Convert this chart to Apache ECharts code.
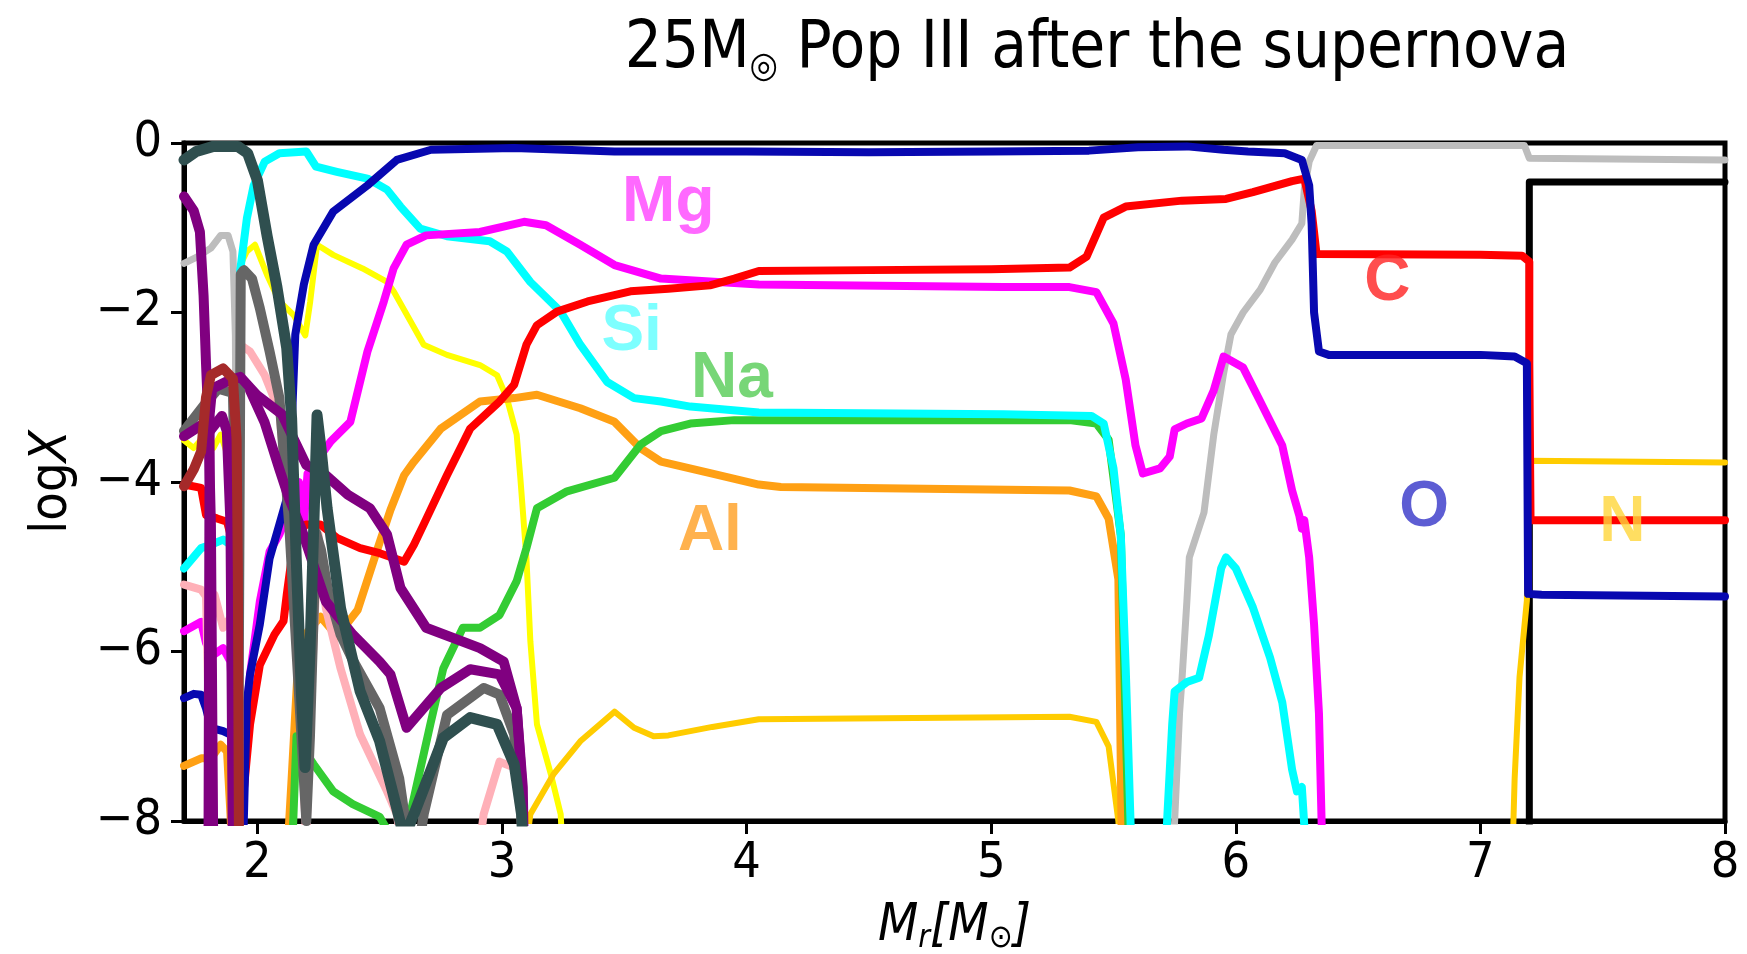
<!DOCTYPE html>
<html>
<head>
<meta charset="utf-8">
<script src="https://cdn.jsdelivr.net/npm/echarts@6/dist/echarts.min.js"></script>
<style>
  html, body { margin: 0; padding: 0; background: #ffffff; }
  #chart { width: 1747px; height: 954px; }
</style>
</head>
<body>
<div id="chart"></div>
<script>
// Axis ticks
const xTicks = [2, 3, 4, 5, 6, 7, 8];
const yTicks = [0, -2, -4, -6, -8];

// Abundance profiles, [Mr, logX]; values below -8 fall outside the frame
const blackLine = [[7.2, -8.5], [7.2, -0.46], [8.0, -0.46]];

const lightGrayLine = [[1.70, -1.42], [1.75, -1.35], [1.81, -1.24], [1.85, -1.09], [1.88, -1.09], [1.90, -1.28], [1.91, -2.27], [1.915, -5], [1.92, -8.5],
  [5.74, -8.5], [5.75, -8.0], [5.77, -6.73], [5.78, -6.33], [5.80, -5.41], [5.81, -4.89], [5.87, -4.36], [5.91, -3.44], [5.95, -2.72], [5.98, -2.26],
  [6.03, -2.0], [6.10, -1.73], [6.16, -1.41], [6.23, -1.14], [6.27, -0.95], [6.28, -0.55], [6.30, -0.22], [6.33, -0.03], [7.18, -0.03], [7.20, -0.18], [8.0, -0.2]];

const yellowLine = [[1.70, -3.51], [1.74, -3.6], [1.78, -3.47], [1.82, -3.6], [1.85, -3.44], [1.88, -3.7], [1.90, -4.5], [1.91, -8.5], [1.925, -8.5],
  [1.93, -1.44], [1.957, -1.28], [1.99, -1.2], [2.04, -1.56], [2.09, -1.87], [2.148, -2.03], [2.196, -2.27], [2.216, -1.87], [2.244, -1.2],
  [2.31, -1.32], [2.43, -1.48], [2.53, -1.64], [2.557, -1.75], [2.68, -2.38], [2.775, -2.5], [2.91, -2.62], [2.98, -2.74], [3.02, -3.01],
  [3.06, -3.44], [3.075, -3.95], [3.10, -4.9], [3.116, -5.88], [3.143, -6.86], [3.20, -7.45], [3.24, -7.92], [3.25, -8.5]];

const N = [[3.09, -8.5], [3.116, -7.92], [3.21, -7.45], [3.32, -7.06], [3.46, -6.71], [3.54, -6.9], [3.62, -7.0], [3.68, -6.99], [3.86, -6.89],
  [4.05, -6.8], [5.32, -6.77], [5.43, -6.83], [5.48, -7.12], [5.52, -8.0], [5.53, -8.5], [7.13, -8.5], [7.14, -7.5], [7.16, -6.3], [7.19, -5.4],
  [7.20, -3.75], [8.0, -3.77]];

const Al = [[1.70, -7.35], [1.77, -7.26], [1.81, -7.26], [1.85, -7.1], [1.876, -7.18], [1.89, -7.92], [1.90, -8.5], [2.12, -8.5], [2.14, -7.5],
  [2.165, -6.2], [2.19, -5.82], [2.258, -5.59], [2.326, -5.82], [2.41, -5.51], [2.49, -4.8], [2.544, -4.33], [2.60, -3.92], [2.64, -3.76],
  [2.75, -3.37], [2.91, -3.05], [3.05, -3.01], [3.143, -2.97], [3.32, -3.13], [3.46, -3.29], [3.566, -3.6], [3.65, -3.76], [3.86, -3.9],
  [4.05, -4.03], [4.14, -4.06], [5.32, -4.1], [5.43, -4.17], [5.48, -4.43], [5.52, -5.15], [5.535, -8.5]];

const Na = [[2.14, -8.5], [2.16, -7.0], [2.20, -7.2], [2.23, -7.33], [2.31, -7.65], [2.39, -7.8], [2.50, -7.95], [2.57, -8.3], [2.60, -8.3],
  [2.625, -7.92], [2.707, -6.86], [2.76, -6.2], [2.84, -5.72], [2.91, -5.72], [2.99, -5.57], [3.06, -5.17], [3.10, -4.78], [3.143, -4.31],
  [3.266, -4.11], [3.46, -3.95], [3.566, -3.56], [3.65, -3.4], [3.77, -3.31], [3.95, -3.27], [5.32, -3.27], [5.43, -3.31], [5.48, -3.5],
  [5.53, -4.63], [5.565, -8.5]];

const Si = [[1.70, -5.02], [1.77, -4.78], [1.81, -4.74], [1.86, -4.68], [1.89, -4.74], [1.90, -5.57], [1.91, -8.5], [1.925, -8.5], [1.93, -1.5],
  [1.957, -0.89], [1.985, -0.5], [2.03, -0.22], [2.09, -0.12], [2.20, -0.1], [2.24, -0.28], [2.325, -0.34], [2.45, -0.42], [2.53, -0.55],
  [2.585, -0.75], [2.666, -1.01], [2.775, -1.1], [2.95, -1.16], [3.02, -1.28], [3.116, -1.64], [3.24, -1.99], [3.32, -2.38], [3.43, -2.82],
  [3.54, -3.01], [3.65, -3.05], [3.77, -3.11], [4.05, -3.18], [5.05, -3.2], [5.41, -3.22], [5.46, -3.31], [5.50, -3.84], [5.53, -4.63],
  [5.55, -6.2], [5.575, -8.5], [5.71, -8.5], [5.74, -6.86], [5.75, -6.47], [5.80, -6.36], [5.85, -6.31], [5.89, -5.81], [5.94, -5.02],
  [5.96, -4.89], [6.00, -5.02], [6.07, -5.48], [6.14, -6.07], [6.19, -6.6], [6.23, -7.39], [6.25, -7.65], [6.27, -7.6], [6.29, -8.5]];

const Mg = [[1.70, -5.76], [1.77, -5.65], [1.79, -5.9], [1.82, -6.04], [1.86, -5.96], [1.89, -6.12], [1.905, -7.0], [1.915, -8.5], [1.935, -8.5],
  [1.944, -7.06], [1.97, -6.27], [2.01, -5.41], [2.05, -4.82], [2.09, -4.62], [2.135, -4.31], [2.17, -4.0], [2.19, -4.5], [2.205, -3.9],
  [2.30, -3.52], [2.38, -3.29], [2.45, -2.46], [2.517, -1.87], [2.557, -1.48], [2.61, -1.2], [2.69, -1.09], [2.91, -1.05], [3.09, -0.93],
  [3.18, -0.97], [3.32, -1.2], [3.46, -1.44], [3.65, -1.6], [4.05, -1.67], [5.05, -1.7], [5.32, -1.7], [5.43, -1.76], [5.50, -2.13],
  [5.55, -2.79], [5.59, -3.57], [5.62, -3.9], [5.69, -3.84], [5.73, -3.7], [5.75, -3.38], [5.80, -3.31], [5.86, -3.25], [5.91, -2.92],
  [5.95, -2.52], [6.03, -2.65], [6.10, -3.05], [6.19, -3.57], [6.23, -4.1], [6.26, -4.4], [6.27, -4.55], [6.28, -4.45], [6.30, -4.89],
  [6.32, -5.68], [6.34, -6.73], [6.355, -8.5]];

const C = [[1.70, -4.03], [1.77, -4.07], [1.79, -4.39], [1.835, -4.43], [1.876, -4.47], [1.89, -4.62], [1.905, -5.5], [1.915, -8.5], [1.935, -8.5],
  [1.944, -7.65], [1.97, -6.86], [2.01, -6.16], [2.07, -5.8], [2.107, -5.64], [2.12, -5.33], [2.14, -4.9], [2.16, -4.62], [2.20, -4.5],
  [2.257, -4.5], [2.325, -4.66], [2.42, -4.78], [2.50, -4.84], [2.60, -4.94], [2.64, -4.74], [2.68, -4.5], [2.775, -3.92], [2.87, -3.37],
  [2.99, -3.05], [3.05, -2.85], [3.10, -2.38], [3.143, -2.15], [3.225, -1.99], [3.35, -1.87], [3.525, -1.75], [3.68, -1.72], [3.85, -1.68],
  [3.95, -1.6], [4.05, -1.51], [4.50, -1.5], [5.00, -1.49], [5.32, -1.47], [5.39, -1.34], [5.46, -0.88], [5.55, -0.75], [5.78, -0.68],
  [5.96, -0.66], [6.07, -0.58], [6.23, -0.45], [6.28, -0.42], [6.31, -0.8], [6.33, -1.31], [7.00, -1.32], [7.17, -1.33], [7.20, -1.4],
  [7.20, -2.6], [7.205, -4.45], [8.0, -4.45]];

const O = [[1.70, -6.55], [1.74, -6.5], [1.77, -6.51], [1.79, -6.67], [1.81, -6.9], [1.86, -6.94], [1.89, -6.98], [1.90, -7.06], [1.915, -8.5],
  [1.94, -8.5], [1.957, -6.6], [1.97, -6.27], [2.01, -5.68], [2.05, -4.9], [2.09, -4.5], [2.13, -4.1], [2.145, -3.0], [2.155, -2.26],
  [2.19, -1.67], [2.23, -1.2], [2.31, -0.81], [2.45, -0.5], [2.57, -0.2], [2.71, -0.08], [3.05, -0.06], [3.46, -0.1], [4.0, -0.1],
  [4.5, -0.11], [5.0, -0.1], [5.4, -0.09], [5.6, -0.05], [5.8, -0.04], [5.95, -0.08], [6.05, -0.1], [6.20, -0.12], [6.27, -0.2],
  [6.30, -0.5], [6.31, -0.95], [6.32, -2.0], [6.34, -2.46], [6.38, -2.5], [7.0, -2.5], [7.14, -2.52], [7.19, -2.6], [7.195, -5.32],
  [7.25, -5.33], [8.0, -5.35]];

const pinkLine = [[1.70, -5.21], [1.77, -5.27], [1.79, -5.35], [1.80, -6.6], [1.815, -5.45], [1.825, -5.33], [1.86, -5.72], [1.89, -5.6],
  [1.90, -5.75], [1.91, -8.5], [1.925, -8.5], [1.93, -2.38], [1.97, -2.46], [2.03, -2.74], [2.09, -3.17], [2.13, -4.5], [2.17, -6.5],
  [2.20, -8.2], [2.22, -6.5], [2.25, -4.62], [2.28, -5.49], [2.34, -6.2], [2.42, -6.98], [2.53, -7.65], [2.57, -7.92], [2.60, -8.5],
  [2.90, -8.5], [2.925, -7.92], [2.99, -7.3], [3.05, -7.37], [3.075, -7.92], [3.085, -8.5]];

const dimGrayLine = [[1.70, -3.4], [1.78, -3.1], [1.84, -2.9], [1.90, -2.95], [1.915, -5], [1.92, -8.5], [1.928, -8.5], [1.932, -1.55],
  [1.945, -1.5], [1.978, -1.6], [2.01, -1.95], [2.05, -2.46], [2.09, -3.01], [2.13, -4.5], [2.16, -6.0], [2.19, -7.5], [2.20, -8.0],
  [2.215, -7.0], [2.24, -4.6], [2.26, -4.8], [2.29, -5.3], [2.34, -5.8], [2.39, -6.1], [2.50, -6.67], [2.58, -7.5], [2.62, -8.3],
  [2.66, -8.3], [2.68, -7.92], [2.775, -6.75], [2.925, -6.43], [2.99, -6.51], [3.05, -6.98], [3.08, -7.92], [3.09, -8.5]];

const purpleA = [[1.70, -0.63], [1.74, -0.8], [1.765, -1.05], [1.78, -1.8], [1.79, -2.6], [1.80, -3.3], [1.81, -4.5], [1.82, -8.5]];
const purpleB = [[1.70, -3.46], [1.77, -3.33], [1.80, -3.42], [1.855, -3.22], [1.875, -3.4], [1.89, -4.5], [1.90, -8.5]];
const purpleC = [[1.80, -8.5], [1.805, -3.2], [1.815, -2.9], [1.87, -2.82], [1.93, -2.76], [2.0, -2.98], [2.1, -3.2], [2.15, -3.5],
  [2.2, -3.8], [2.28, -3.92], [2.37, -4.15], [2.46, -4.31], [2.53, -4.62], [2.585, -5.25], [2.69, -5.72], [2.91, -5.96], [3.007, -6.12],
  [3.06, -6.67], [3.08, -7.5], [3.09, -8.5]];
const purpleD = [[1.97, -2.92], [2.03, -3.3], [2.09, -3.85], [2.13, -4.2], [2.18, -4.55], [2.22, -4.9], [2.28, -5.41], [2.39, -5.8],
  [2.50, -6.12], [2.544, -6.27], [2.61, -6.9], [2.75, -6.43], [2.87, -6.21], [2.99, -6.27], [3.06, -6.67], [3.085, -7.6], [3.09, -8.5]];

const brownLine = [[1.70, -4.05], [1.74, -3.85], [1.77, -3.64], [1.79, -3.0], [1.81, -2.74], [1.86, -2.66], [1.90, -2.78], [1.915, -3.5],
  [1.92, -5.0], [1.925, -8.5]];

const darkSlateLine = [[1.70, -0.2], [1.75, -0.1], [1.82, -0.04], [1.92, -0.04], [1.96, -0.12], [2.0, -0.44], [2.04, -1.1], [2.08, -1.7],
  [2.12, -2.42], [2.14, -3.25], [2.16, -5.0], [2.18, -6.5], [2.195, -7.37], [2.215, -6.0], [2.237, -3.9], [2.244, -3.21], [2.26, -3.6],
  [2.285, -4.31], [2.34, -5.49], [2.42, -6.47], [2.50, -7.06], [2.57, -7.85], [2.60, -8.2], [2.64, -7.92], [2.76, -7.02], [2.87, -6.78],
  [2.98, -6.86], [3.05, -7.33], [3.08, -7.92], [3.09, -8.5]];

// Element tags placed inside the plot, [Mr, logX]
const tagNames = ['Mg', 'Si', 'Na', 'Al', 'C', 'O', 'N'];
const tagPos = [[3.68, -0.71], [3.53, -2.23], [3.94, -2.79], [3.85, -4.6], [6.62, -1.64], [6.77, -4.31], [7.58, -4.49]];
const tagColors = ['#ff44ff', '#5cffff', '#55cc55', '#ff9f22', '#ff2222', '#3434c8', '#ffd63a'];

const FONT = "'DejaVu Sans Condensed', 'Liberation Sans', sans-serif";
const TAG_FONT = "'Liberation Sans', 'DejaVu Sans', sans-serif";

const lines = [
  { name: 'black', data: blackLine, color: '#000000', width: 7 },
  { name: 'lightgray', data: lightGrayLine, color: '#bdbdbd', width: 7 },
  { name: 'yellow', data: yellowLine, color: '#ffff00', width: 6 },
  { name: 'N', data: N, color: '#ffcc00', width: 6 },
  { name: 'Al', data: Al, color: '#ffa014', width: 8 },
  { name: 'Na', data: Na, color: '#33cc33', width: 8 },
  { name: 'Si', data: Si, color: '#00ffff', width: 8 },
  { name: 'Mg', data: Mg, color: '#ff00ff', width: 8 },
  { name: 'C', data: C, color: '#ff0000', width: 8 },
  { name: 'O', data: O, color: '#0808b0', width: 8 },
  { name: 'pink', data: pinkLine, color: '#ffb0b8', width: 8 },
  { name: 'dimgray', data: dimGrayLine, color: '#666666', width: 10 },
  { name: 'purpleB', data: purpleB, color: '#800080', width: 10 },
  { name: 'purpleA', data: purpleA, color: '#800080', width: 10 },
  { name: 'purpleC', data: purpleC, color: '#800080', width: 10 },
  { name: 'purpleD', data: purpleD, color: '#800080', width: 10 },
  { name: 'brown', data: brownLine, color: '#a52a2a', width: 10 },
  { name: 'darkslate', data: darkSlateLine, color: '#2f4f4f', width: 11 }
];

const series = lines.map(s => ({
  type: 'line',
  name: s.name,
  data: s.data,
  showSymbol: false,
  symbol: 'none',
  clip: true,
  animation: false,
  lineStyle: { color: s.color, width: s.width, join: 'round', cap: 'round' },
  z: 2
}));

series.push({
  type: 'scatter',
  name: 'tags',
  symbolSize: 0,
  animation: false,
  z: 5,
  data: tagNames.map((t, i) => ({
    name: t,
    value: tagPos[i],
    label: {
      show: true,
      position: 'inside',
      formatter: '{b}',
      color: tagColors[i],
      fontSize: 64,
      fontWeight: 'bold',
      fontFamily: TAG_FONT
    }
  }))
});

const chart = echarts.init(document.getElementById('chart'), null, { renderer: 'canvas' });
chart.setOption({
  backgroundColor: '#ffffff',
  animation: false,
  grid: {
    left: 184, right: 22, top: 143, bottom: 133,
    outerBoundsMode: 'none',
    containLabel: false,
    show: true, borderColor: '#000000', borderWidth: 5, backgroundColor: 'transparent'
  },
  xAxis: {
    type: 'value',
    min: 1.7, max: 8,
    axisLine: { show: true, onZero: false, lineStyle: { color: '#000', width: 5 } },
    axisTick: { show: true, customValues: xTicks, length: 13, lineStyle: { color: '#000', width: 3 } },
    axisLabel: { customValues: xTicks, color: '#000', fontSize: 50, margin: 18, fontFamily: FONT },
    splitLine: { show: false },
    name: '{i|M}{s|r}{i|[M}{s|⊙}{i|]}',
    nameLocation: 'middle',
    nameGap: 76,
    nameTextStyle: {
      fontFamily: FONT,
      rich: {
        i: { fontSize: 52, fontStyle: 'italic', color: '#000', lineHeight: 58, fontFamily: FONT },
        s: { fontSize: 32, fontStyle: 'italic', color: '#000', lineHeight: 34, verticalAlign: 'bottom', fontFamily: FONT }
      }
    }
  },
  yAxis: {
    type: 'value',
    min: -8, max: 0, interval: 2,
    axisLine: { show: true, onZero: false, lineStyle: { color: '#000', width: 5 } },
    axisTick: { show: true, length: 13, lineStyle: { color: '#000', width: 3 } },
    axisLabel: {
      color: '#000', fontSize: 50, margin: 22, fontFamily: FONT,
      formatter: v => (v < 0 ? '\u2212' + Math.abs(v) : String(v))
    },
    splitLine: { show: false },
    name: '{n|log}{i|X}',
    nameLocation: 'middle',
    nameGap: 106,
    nameRotate: 90,
    nameTextStyle: {
      fontFamily: FONT,
      rich: {
        n: { fontSize: 52, color: '#000', fontFamily: FONT },
        i: { fontSize: 52, fontStyle: 'italic', color: '#000', fontFamily: FONT }
      }
    }
  },
  graphic: [{
    type: 'text',
    x: 1097, y: 14,
    style: {
      text: '{a|25M}{s|◎}{a| Pop III after the supernova}',
      textAlign: 'center',
      textVerticalAlign: 'top',
      rich: {
        a: { fontSize: 65, lineHeight: 72, fill: '#000', fontFamily: FONT },
        s: { fontSize: 36, lineHeight: 34, verticalAlign: 'bottom', fill: '#000', fontFamily: FONT }
      }
    }
  }],
  series: series
});
</script>
</body>
</html>
